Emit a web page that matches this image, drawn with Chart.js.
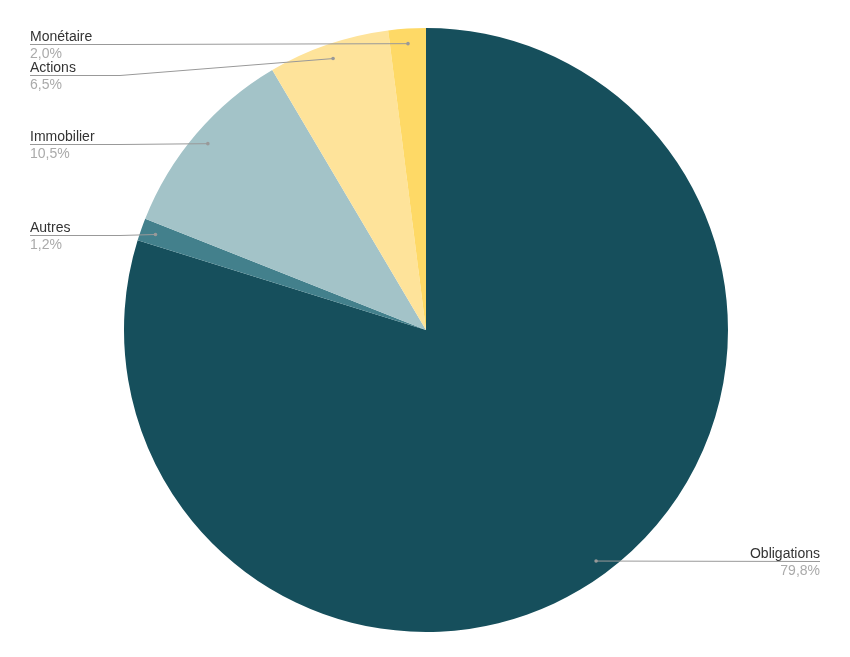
<!DOCTYPE html>
<html>
<head>
<meta charset="utf-8">
<script src="https://cdn.jsdelivr.net/npm/chart.js@4"></script>
<style>
  body { margin: 0; background: #fff; }
  #wrap { width: 850px; height: 657px; position: relative; }
</style>
</head>
<body>
<div id="wrap"><canvas id="repartitionChart"></canvas></div>
<script>
const categories = ["Obligations", "Autres", "Immobilier", "Actions", "Monétaire"];
const shares = [79.8, 1.2, 10.5, 6.5, 2.0];
const sliceColors = ["#164f5c", "#43808c", "#a3c3c8", "#fee39a", "#fed966"];

const fmt = v => v.toFixed(1).replace(".", ",") + "%";

// etiquettes avec lignes de rappel
const leaderLabels = {
  id: "leaderLabels",
  afterDatasetsDraw(chart) {
    const ctx = chart.ctx;
    const arcs = chart.getDatasetMeta(0).data;
    const left = [], right = [];
    arcs.forEach((arc, i) => {
      const p = arc.getProps(["x", "y", "startAngle", "endAngle", "outerRadius"], true);
      const mid = (p.startAngle + p.endAngle) / 2;
      const r = p.outerRadius * 0.95;
      const dot = { x: p.x + Math.cos(mid) * r, y: p.y + Math.sin(mid) * r };
      const item = { i, dot, ly: dot.y };
      (dot.x < p.x ? left : right).push(item);
    });
    [left, right].forEach(list => {
      list.sort((a, b) => a.ly - b.ly);
      for (let k = 1; k < list.length; k++) {
        if (list[k].ly - list[k - 1].ly < 31) list[k].ly = list[k - 1].ly + 31;
      }
    });
    ctx.save();
    ctx.font = "14px 'Liberation Sans', Arial, sans-serif";
    ctx.lineWidth = 1;
    left.forEach(it => {
      const ly = Math.round(it.ly) + 0.5;
      ctx.strokeStyle = "#999";
      ctx.beginPath();
      ctx.moveTo(30, ly);
      ctx.lineTo(120, ly);
      ctx.lineTo(it.dot.x, it.dot.y);
      ctx.stroke();
      ctx.fillStyle = "#999";
      ctx.beginPath();
      ctx.arc(it.dot.x, it.dot.y, 1.8, 0, Math.PI * 2);
      ctx.fill();
      ctx.textAlign = "left";
      ctx.textBaseline = "alphabetic";
      ctx.fillStyle = "#333";
      ctx.fillText(categories[it.i], 30, ly - 4);
      ctx.fillStyle = "#aaa";
      ctx.fillText(fmt(shares[it.i]), 30, ly + 13);
    });
    right.forEach(it => {
      const ly = Math.round(it.ly) + 0.5;
      ctx.strokeStyle = "#999";
      ctx.beginPath();
      ctx.moveTo(it.dot.x, it.dot.y);
      ctx.lineTo(820, ly);
      ctx.stroke();
      ctx.fillStyle = "#999";
      ctx.beginPath();
      ctx.arc(it.dot.x, it.dot.y, 1.8, 0, Math.PI * 2);
      ctx.fill();
      ctx.textAlign = "right";
      ctx.fillStyle = "#333";
      ctx.fillText(categories[it.i], 820, ly - 4);
      ctx.fillStyle = "#aaa";
      ctx.fillText(fmt(shares[it.i]), 820, ly + 13);
    });
    ctx.restore();
  }
};

const ctx = document.getElementById("repartitionChart").getContext("2d");
new Chart(ctx, {
  type: "pie",
  data: {
    labels: categories,
    datasets: [{
      data: shares,
      backgroundColor: sliceColors,
      borderWidth: 0
    }]
  },
  options: {
    responsive: true,
    maintainAspectRatio: false,
    animation: false,
    layout: { padding: { top: 28, bottom: 25, left: 2, right: 0 } },
    plugins: {
      legend: { display: false },
      tooltip: { enabled: false }
    }
  },
  plugins: [leaderLabels]
});
</script>
</body>
</html>
